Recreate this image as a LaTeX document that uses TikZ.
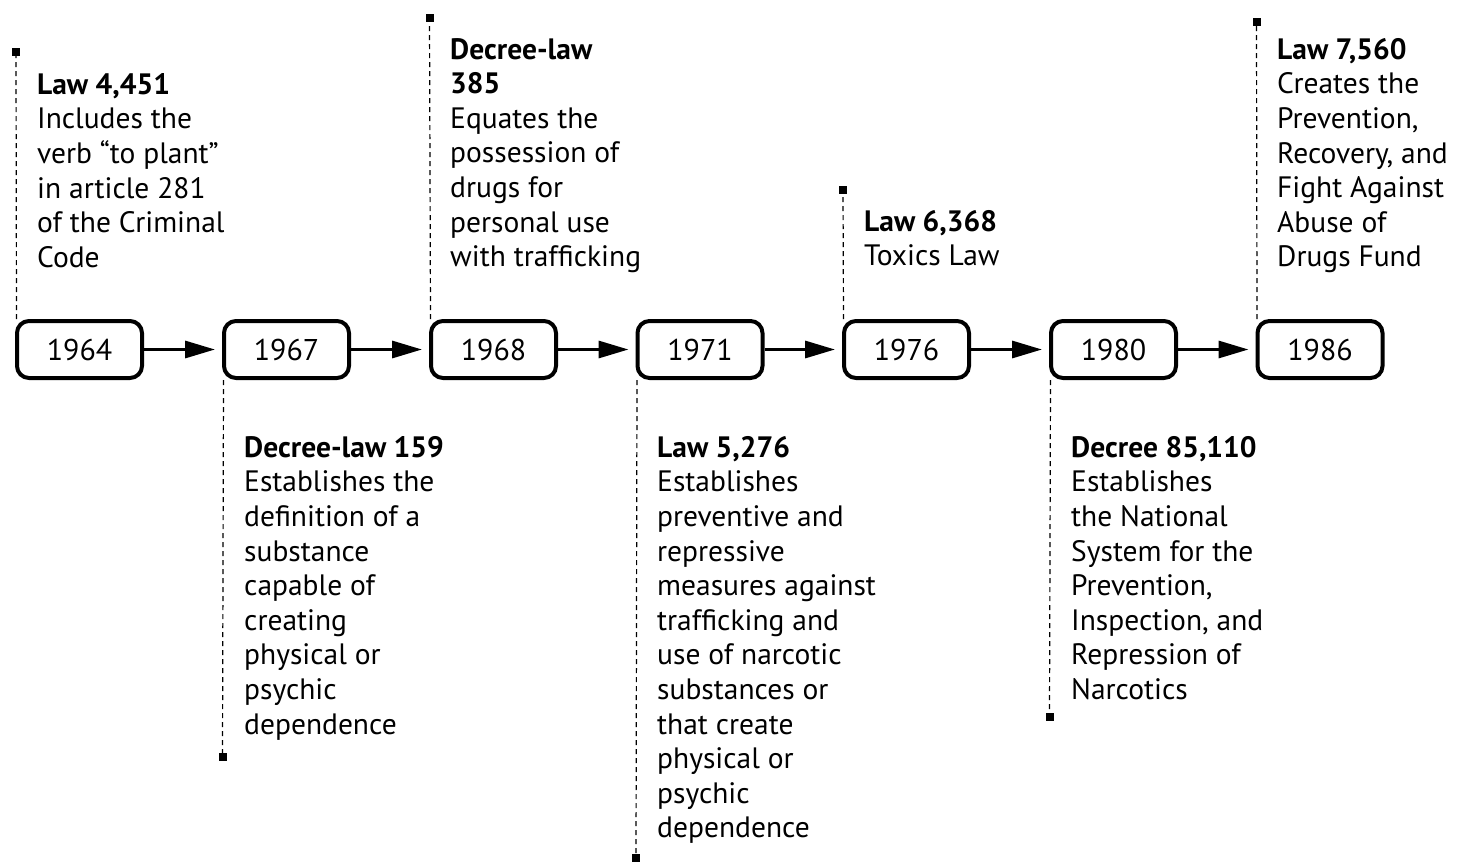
\documentclass[tikz,border=0pt]{standalone}
\usepackage{fontspec}
\setmainfont{PT Sans}
\usetikzlibrary{arrows.meta}
\begin{document}
\begin{tikzpicture}[x=1pt,y=-1pt,
  yearbox/.style={draw,line width=4pt,rounded corners=12pt,minimum width=125pt,minimum height=57pt,inner sep=0pt,font=\fontsize{30}{34}\selectfont},
  flow/.style={line width=3.2pt,-{Triangle[length=30pt,width=17pt]},shorten >=7pt},
  guide/.style={line width=1.2pt,dash pattern=on 5pt off 4pt},
  marker/.style={fill=black,inner sep=0pt,minimum size=8pt},
  desc/.style={anchor=north west,inner sep=0pt,align=left,font=\fontsize{29.5}{34.6}\selectfont}
]
\useasboundingbox (0,0) rectangle (1457,862);
% boxes
\node[yearbox] (b1) at (79.5,349.5) {1964};
\node[yearbox] (b2) at (286.5,349.5) {1967};
\node[yearbox] (b3) at (493.5,349.5) {1968};
\node[yearbox] (b4) at (700,349.5) {1971};
\node[yearbox] (b5) at (906.5,349.5) {1976};
\node[yearbox] (b6) at (1113.5,349.5) {1980};
\node[yearbox] (b7) at (1320,349.5) {1986};
% arrows
\draw[flow] (b1) -- (b2);
\draw[flow] (b2) -- (b3);
\draw[flow] (b3) -- (b4);
\draw[flow] (b4) -- (b5);
\draw[flow] (b5) -- (b6);
\draw[flow] (b6) -- (b7);
% markers
\node[marker] (m1) at (16,52) {};
\node[marker] (m2) at (222.5,757) {};
\node[marker] (m3) at (429.5,18) {};
\node[marker] (m4) at (636,858) {};
\node[marker] (m5) at (843,190) {};
\node[marker] (m6) at (1049.5,717) {};
\node[marker] (m7) at (1256.5,22) {};
% guides
\draw[guide] ([xshift=1.5pt]b1.north west) -- (m1);
\draw[guide] ([xshift=1.5pt]b2.south west) -- (m2);
\draw[guide] ([xshift=1.5pt]b3.north west) -- (m3);
\draw[guide] ([xshift=1.5pt]b4.south west) -- (m4);
\draw[guide] ([xshift=1.5pt]b5.north west) -- (m5);
\draw[guide] ([xshift=1.5pt]b6.south west) -- (m6);
\draw[guide] ([xshift=1.5pt]b7.north west) -- (m7);
% texts
\node[desc] (t1) at (37,73) {\textbf{Law 4,451}\\Includes the\\verb “to plant”\\in article 281\\of the Criminal\\Code};
\node[desc] (t2) at (244,436) {\textbf{Decree-law 159}\\Establishes the\\definition of a\\substance\\capable of\\creating\\physical or\\psychic\\dependence};
\node[desc] (t3) at (450,38) {\textbf{Decree-law}\\\textbf{385}\\Equates the\\possession of\\drugs for\\personal use\\with trafficking};
\node[desc] (t4) at (657,436) {\textbf{Law 5,276}\\Establishes\\preventive and\\repressive\\measures against\\trafficking and\\use of narcotic\\substances or\\that create\\physical or\\psychic\\dependence};
\node[desc] (t5) at (864,210) {\textbf{Law 6,368}\\Toxics Law};
\node[desc] (t6) at (1071,436) {\textbf{Decree 85,110}\\Establishes\\the National\\System for the\\Prevention,\\Inspection, and\\Repression of\\Narcotics};
\node[desc] (t7) at (1277,38) {\textbf{Law 7,560}\\Creates the\\Prevention,\\Recovery, and\\Fight Against\\Abuse of\\Drugs Fund};
\end{tikzpicture}
\end{document}
